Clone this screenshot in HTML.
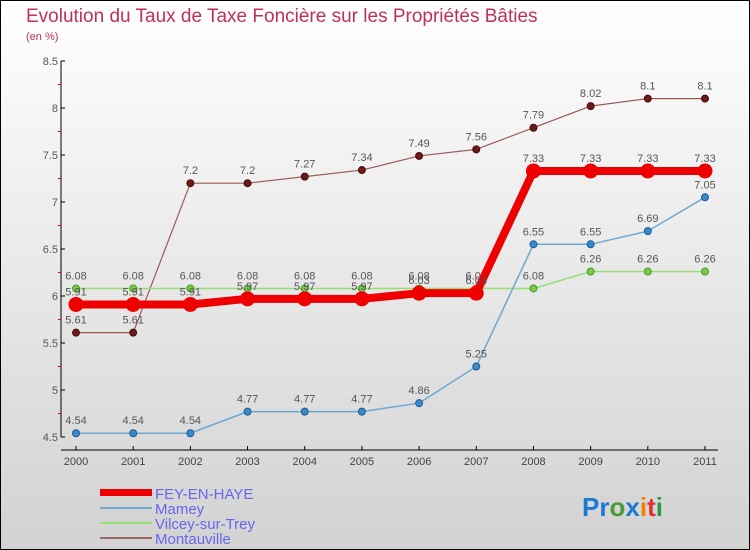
<!DOCTYPE html>
<html><head><meta charset="utf-8"><style>
body{margin:0}
#c{width:750px;height:550px;position:relative;overflow:hidden}
text{font-family:"Liberation Sans",sans-serif}
</style></head><body>
<div id="c">
<svg id="s" width="750" height="550" xmlns="http://www.w3.org/2000/svg">
<defs><linearGradient id="bg" x1="0" y1="0" x2="0" y2="1"><stop offset="0" stop-color="#ffffff"/><stop offset="1" stop-color="#d2d2d2"/></linearGradient></defs>
<rect x="0.5" y="0.5" width="749" height="549" fill="url(#bg)" stroke="#000"/>
<text x="26" y="22" font-size="19" fill="#c0305a">Evolution du Taux de Taxe Foncière sur les Propriétés Bâties</text>
<text x="26" y="40" font-size="11" fill="#c0305a">(en %)</text>
<g id="axes"></g><g id="series"></g>
<g>
<rect x="100" y="489" width="52" height="7" fill="#e00"/>
<text x="155" y="499" font-size="15" fill="#6666ee">FEY-EN-HAYE</text>
<line x1="100" y1="508" x2="152" y2="508" stroke="#6fa8d0" stroke-width="2"/>
<text x="155" y="514" font-size="15" fill="#6666ee">Mamey</text>
<line x1="100" y1="523" x2="152" y2="523" stroke="#99dd77" stroke-width="2"/>
<text x="155" y="529" font-size="15" fill="#6666ee">Vilcey-sur-Trey</text>
<line x1="100" y1="538" x2="152" y2="538" stroke="#9a6666" stroke-width="2"/>
<text x="155" y="544" font-size="15" fill="#6666ee">Montauville</text>
</g>
<g font-size="26" font-weight="bold">
<text x="582" y="516"><tspan fill="#1a7ad4">Pr</tspan><tspan fill="#4a9a3a">o</tspan><tspan fill="#1a7ad4">x</tspan><tspan fill="#f08000">i</tspan><tspan fill="#e03030">t</tspan><tspan fill="#2a9a3a">i</tspan></text>
</g>
</svg>
</div>
<script>
const years=["2000","2001","2002","2003","2004","2005","2006","2007","2008","2009","2010","2011"];
const yTicks=[4.5,5,5.5,6,6.5,7,7.5,8,8.5];
const fey=[5.91,5.91,5.91,5.97,5.97,5.97,6.03,6.03,7.33,7.33,7.33,7.33];
const mamey=[4.54,4.54,4.54,4.77,4.77,4.77,4.86,5.25,6.55,6.55,6.69,7.05];
const vilcey=[6.08,6.08,6.08,6.08,6.08,6.08,6.08,6.08,6.08,6.26,6.26,6.26];
const montauville=[5.61,5.61,7.2,7.2,7.27,7.34,7.49,7.56,7.79,8.02,8.1,8.1];
const NS="http://www.w3.org/2000/svg";
const xs=i=>76+i*(705-76)/(years.length-1);
const ys=v=>437-(v-4.5)*94;
function mk(p,t,a){const e=document.createElementNS(NS,t);for(const k in a)e.setAttribute(k,a[k]);p.appendChild(e);return e;}
const ax=document.getElementById('axes');
let l=mk(ax,'line',{x1:61,y1:61,x2:61,y2:437,stroke:'#000'});


l=mk(ax,'line',{x1:61,y1:450,x2:718,y2:450,stroke:'#000'});


yTicks.forEach((v,i)=>{
 mk(ax,'line',{x1:61,y1:ys(v),x2:65,y2:ys(v),stroke:'#000'});
 if(i<yTicks.length-1)mk(ax,'line',{x1:58,y1:ys(v+0.25),x2:61,y2:ys(v+0.25),stroke:'#e00'});
 const t=mk(ax,'text',{x:58,y:ys(v)+4,'font-size':11,fill:'#555','text-anchor':'end'});t.textContent=v;
 
 
});
years.forEach((y,i)=>{
 mk(ax,'line',{x1:xs(i),y1:446,x2:xs(i),y2:450,stroke:'#000'});
 const t=mk(ax,'text',{x:xs(i),y:465,'font-size':11,fill:'#444','text-anchor':'middle'});t.textContent=y;
 
 
});
const sg=document.getElementById('series');
function draw(name,data,color,w,r,dot,dotStroke){
 const g=mk(sg,'g',{});
 
 
 const p=mk(g,'polyline',{points:data.map((v,i)=>xs(i)+','+ys(v)).join(' '),fill:'none',stroke:color,'stroke-width':w,'stroke-linejoin':'round'});
 
 
 data.forEach((v,i)=>{
  const c=mk(g,'circle',{cx:xs(i),cy:ys(v),r:r,fill:dot,stroke:dotStroke,'stroke-width':1});
  
  
  const t=mk(g,'text',{x:xs(i),y:ys(v)-9,'font-size':11,fill:'#555','text-anchor':'middle'});t.textContent=v;
  
  
 });
}
draw('montauville',montauville,'#9a5a5a',1.2,3.5,'#6a1a1a','#4a0a0a');
draw('vilcey',vilcey,'#99dd77',1.5,3.5,'#77cc44','#4a9a2a');
draw('mamey',mamey,'#6fa8d0',1.5,3.5,'#3a8ac8','#1a5a9a');
draw('fey',fey,'#ee0000',8,7,'#ee0000','#ee0000');
</script>
</body></html>
